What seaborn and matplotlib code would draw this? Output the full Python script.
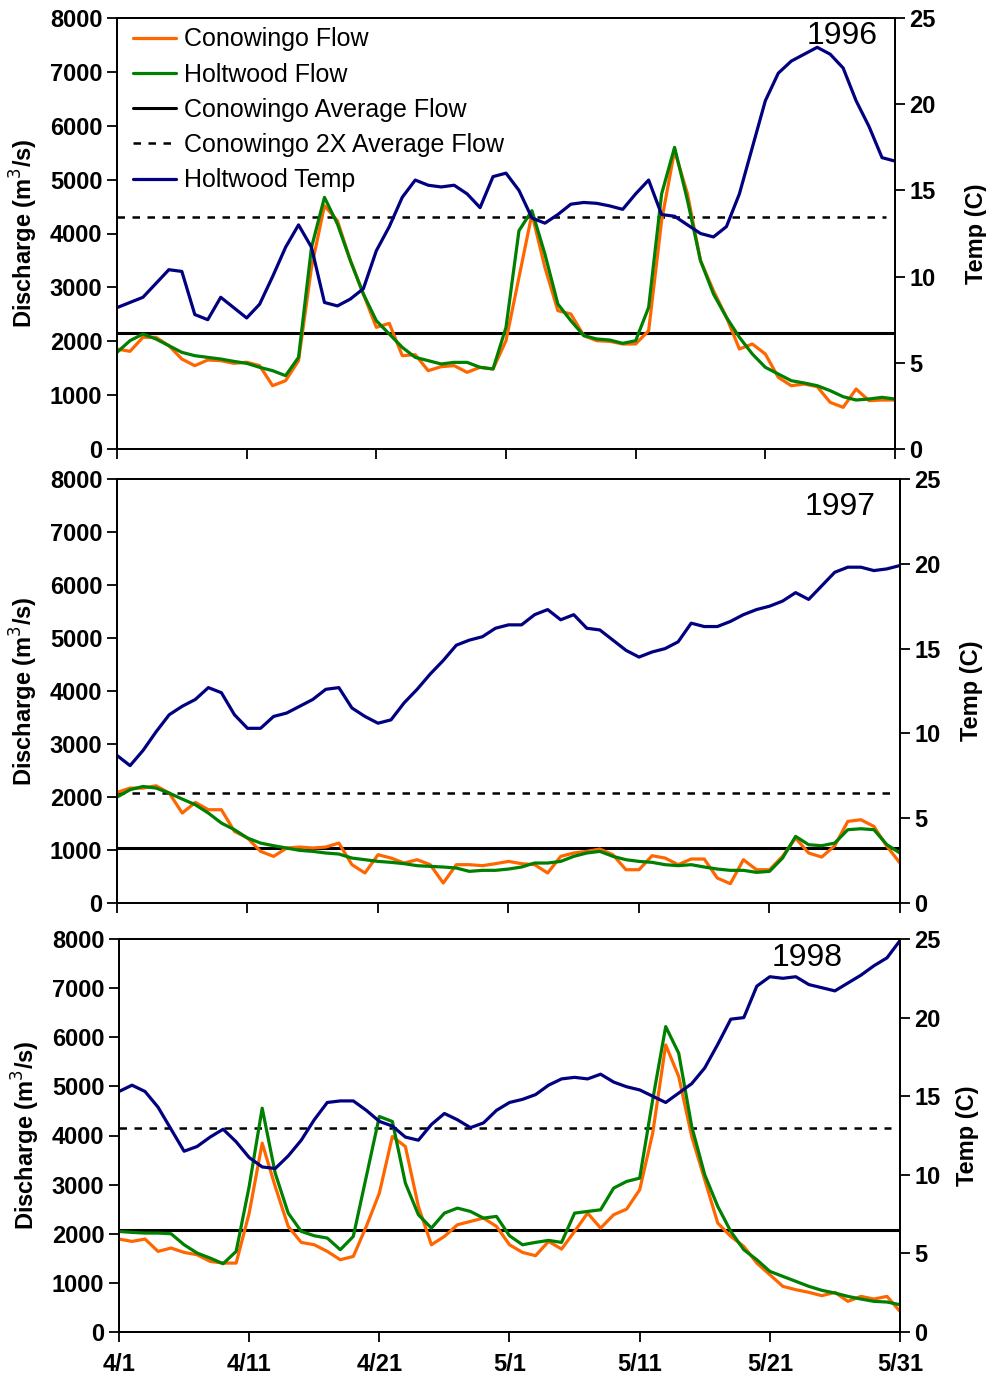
import numpy as np
import pandas as pd
import matplotlib
matplotlib.use("Agg")
import matplotlib.pyplot as plt
import seaborn as sns

sns.set_theme(style="ticks")
plt.rcParams['font.family'] = ['Liberation Sans', 'DejaVu Sans']
plt.rcParams['text.color'] = 'black'
plt.rcParams['axes.labelcolor'] = 'black'
plt.rcParams['xtick.color'] = 'black'
plt.rcParams['ytick.color'] = 'black'

# ---------------- data ----------------
days = list(range(61))  # 0 = 4/1 ... 60 = 5/31
tick_days = [0, 10, 20, 30, 40, 50, 60]
tick_labels = ["4/1", "4/11", "4/21", "5/1", "5/11", "5/21", "5/31"]
years = ["1996", "1997", "1998"]

cono_1996 = [1856, 1813, 2073, 2073, 1918, 1670, 1547, 1652, 1640, 1590,
             1610, 1547, 1175, 1268, 1640, 3370, 4517, 4238, 3496, 2877,
             2258, 2332, 1732, 1750, 1454, 1528, 1547, 1423, 1516, 1485,
             2010, 3186, 4362, 3372, 2568, 2506, 2104, 2010, 1998, 1949,
             1949, 2196, 4238, 5537, 4733, 3496, 2939, 2444, 1856, 1949,
             1763, 1330, 1175, 1206, 1157, 866, 773, 1114, 897, 909, 909]
holt_1996 = [1794, 2010, 2134, 2042, 1918, 1794, 1732, 1701, 1670, 1627,
             1590, 1516, 1454, 1361, 1701, 3743, 4671, 4176, 3496, 2877,
             2382, 2134, 1887, 1701, 1640, 1578, 1608, 1608, 1516, 1485,
             2258, 4052, 4424, 3619, 2691, 2382, 2104, 2042, 2023, 1961,
             2010, 2629, 4733, 5599, 4609, 3496, 2877, 2444, 2073, 1763,
             1516, 1392, 1268, 1225, 1175, 1083, 971, 909, 928, 959, 928]
temp_1996 = [8.2, 8.5, 8.8, 9.6, 10.4, 10.3, 7.8, 7.5, 8.8, 8.2,
             7.6, 8.4, 10.0, 11.7, 13.0, 11.7, 8.5, 8.3, 8.7, 9.3,
             11.5, 12.9, 14.6, 15.6, 15.3, 15.2, 15.3, 14.8, 14.0, 15.8,
             16.0, 15.0, 13.4, 13.1, 13.6, 14.2, 14.3, 14.25, 14.1, 13.9,
             14.8, 15.6, 13.6, 13.5, 13.0, 12.5, 12.3, 12.9, 14.8, 17.5,
             20.2, 21.8, 22.5, 22.9, 23.3, 22.9, 22.1, 20.2, 18.7, 16.9, 16.7]

cono_1997 = [2086, 2168, 2168, 2212, 2074, 1697, 1898, 1760, 1760, 1351,
             1226, 974, 880, 1037, 1056, 1037, 1056, 1131, 723, 566,
             911, 848, 754, 817, 723, 377, 723, 723, 704, 742,
             785, 742, 723, 566, 880, 943, 974, 1018, 911, 628,
             628, 892, 848, 723, 830, 830, 471, 364, 817, 628,
             628, 880, 1225, 943, 867, 1081, 1540, 1571, 1445, 1068, 754]
holt_1997 = [1998, 2137, 2199, 2168, 2074, 1961, 1854, 1697, 1508, 1383,
             1226, 1131, 1081, 1037, 993, 974, 943, 924, 848, 817,
             785, 767, 742, 704, 691, 679, 660, 597, 616, 616,
             641, 679, 754, 754, 785, 880, 943, 974, 880, 817,
             785, 767, 723, 704, 723, 679, 641, 616, 616, 578,
             597, 848, 1257, 1100, 1081, 1131, 1383, 1401, 1383, 1100, 943]
temp_1997 = [8.7, 8.1, 9.0, 10.1, 11.1, 11.6, 12.0, 12.7, 12.4, 11.1,
             10.3, 10.3, 11.0, 11.2, 11.6, 12.0, 12.6, 12.7, 11.5, 11.0,
             10.6, 10.8, 11.8, 12.6, 13.5, 14.3, 15.2, 15.5, 15.7, 16.2,
             16.4, 16.4, 17.0, 17.3, 16.7, 17.0, 16.2, 16.1, 15.5, 14.9,
             14.5, 14.8, 15.0, 15.4, 16.5, 16.3, 16.3, 16.6, 17.0, 17.3,
             17.5, 17.8, 18.3, 17.9, 18.7, 19.5, 19.8, 19.8, 19.6, 19.7, 19.9]

cono_1998 = [1892, 1844, 1892, 1641, 1709, 1620, 1573, 1437, 1403, 1403,
             2420, 3844, 2963, 2149, 1824, 1776, 1641, 1471, 1539, 2149,
             2827, 3980, 3776, 2556, 1776, 1946, 2183, 2251, 2319, 2149,
             1776, 1620, 1553, 1844, 1688, 2048, 2420, 2115, 2387, 2502,
             2895, 4048, 5844, 5200, 3980, 3099, 2217, 1946, 1742, 1403,
             1166, 929, 861, 807, 739, 807, 624, 725, 671, 725, 420]
holt_1998 = [2048, 2027, 2014, 2014, 2000, 1776, 1607, 1505, 1390, 1641,
             2963, 4556, 3234, 2420, 2048, 1959, 1912, 1675, 1946, 3166,
             4387, 4285, 3031, 2387, 2115, 2420, 2522, 2454, 2319, 2353,
             1959, 1776, 1824, 1865, 1824, 2420, 2454, 2488, 2929, 3065,
             3132, 4726, 6217, 5675, 4183, 3200, 2556, 2048, 1675, 1471,
             1234, 1132, 1031, 929, 848, 793, 725, 671, 624, 610, 556]
temp_1998 = [15.3, 15.7, 15.3, 14.3, 12.9, 11.5, 11.8, 12.4, 12.9, 12.1,
             11.1, 10.5, 10.4, 11.2, 12.2, 13.5, 14.6, 14.7, 14.7, 14.1,
             13.4, 13.1, 12.4, 12.2, 13.2, 13.9, 13.5, 13.0, 13.3, 14.1,
             14.6, 14.8, 15.1, 15.7, 16.1, 16.2, 16.1, 16.4, 15.9, 15.6,
             15.4, 15.0, 14.6, 15.2, 15.8, 16.8, 18.3, 19.9, 20.0, 22.0,
             22.6, 22.5, 22.6, 22.1, 21.9, 21.7, 22.2, 22.7, 23.3, 23.8, 24.9]

avg_flow = [2150, 1040, 2075]
avg2x_flow = [4300, 2080, 4150]

cono = [cono_1996, cono_1997, cono_1998]
holt = [holt_1996, holt_1997, holt_1998]
temps = [temp_1996, temp_1997, temp_1998]

# ---------------- styling ----------------
c_orange = "#FF6600"
c_green = "#008000"
c_blue = "#000080"
W, H = 987, 1382
fig = plt.figure(figsize=(W / 100, H / 100), dpi=100)

# axes boxes in pixels: left, right, top, bottom
boxes = [(117, 895, 18, 449), (117, 900, 479, 903), (119, 900, 939, 1332)]
year_pos = [(0.932, 0.958), (0.923, 0.934), (0.881, 0.952)]
temp_pads = [21, 14, 10.5]
tick_fs = 17

for i, (l, r, t, b) in enumerate(boxes):
    ax = fig.add_axes([l / W, 1 - b / H, (r - l) / W, (b - t) / H])
    df = pd.DataFrame({"day": days, "Conowingo Flow": cono[i],
                       "Holtwood Flow": holt[i], "Holtwood Temp": temps[i]})
    sns.lineplot(data=df, x="day", y="Conowingo Flow", ax=ax, color=c_orange,
                 lw=2.3, label="Conowingo Flow", legend=False, zorder=3)
    sns.lineplot(data=df, x="day", y="Holtwood Flow", ax=ax, color=c_green,
                 lw=2.3, label="Holtwood Flow", legend=False, zorder=4)
    ax.axhline(avg_flow[i], color="black", lw=2.2, label="Conowingo Average Flow")
    ax.axhline(avg2x_flow[i], xmax=0.988, color="black", lw=1.8, ls=(0, (3, 3)),
               label="Conowingo 2X Average Flow")
    ax.set_xlim(0, 60)
    ax.set_ylim(0, 8000)
    ax.set_yticks(range(0, 8001, 1000))
    ax.set_xticks(tick_days)
    ax2 = ax.twinx()
    sns.lineplot(data=df, x="day", y="Holtwood Temp", ax=ax2, color=c_blue,
                 lw=2.3, label="Holtwood Temp", legend=False)
    ax2.set_ylim(0, 25)
    ax2.set_yticks(range(0, 26, 5))
    ax2.set_xlim(0, 60)

    for a in (ax, ax2):
        for s in a.spines.values():
            s.set_linewidth(1.3)
            s.set_color("black")
        a.tick_params(direction="out", length=7, width=1.3, color="black",
                      labelsize=tick_fs, labelcolor="black")
        for lab in a.get_yticklabels():
            lab.set_fontweight("bold")
    if i == 2:
        ax.set_xticklabels(tick_labels, fontweight="bold", fontsize=tick_fs)
        ax.tick_params(axis="x", pad=8)
    else:
        ax.set_xticklabels([])
    ax.set_xlabel("")
    ax2.set_xlabel("")
    ax.set_ylabel("Discharge (m$^3$/s)", fontsize=tick_fs, fontweight="bold", labelpad=7)
    ax2.set_ylabel("Temp (C)", fontsize=tick_fs, fontweight="bold", labelpad=temp_pads[i])
    ax2.text(year_pos[i][0], year_pos[i][1], years[i], transform=ax2.transAxes,
             ha="center", va="center", fontsize=23, color="black")

    if i == 0:
        handles = ax.get_lines()[:4] + ax2.get_lines()[:1]
        labels = [h.get_label() for h in handles]
        ax2.legend(handles, labels, loc="upper left", frameon=False,
                   bbox_to_anchor=(0.020, 0.978), borderaxespad=0, borderpad=0,
                   fontsize=18, handlelength=1.75, handletextpad=0.3,
                   labelspacing=0.45)

fig.savefig("out.png", dpi=100)
